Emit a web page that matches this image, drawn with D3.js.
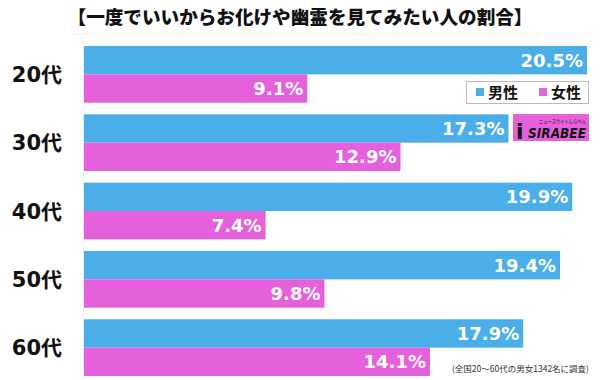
<!DOCTYPE html>
<html><head><meta charset="utf-8">
<script src="https://cdn.jsdelivr.net/npm/d3@7"></script>
<style>body{margin:0;background:#fff}svg{display:block}</style>
</head><body>
<svg id="c" width="600" height="380"></svg>
<script>
const categories = ["20代","30代","40代","50代","60代"];
const maleValues = [20.5,17.3,19.9,19.4,17.9];
const femaleValues = [9.1,12.9,7.4,9.8,14.1];
const seriesNames = ["男性","女性"];
const title = "【一度でいいからお化けや幽霊を見てみたい人の割合】";
const note = "(全国20～60代の男女1342名に調査)";

const colors = ["#4aaee8","#e561dc"];
const svg = d3.select("#c");
const x = d3.scaleLinear().domain([0,20.5]).range([84,587]);
const y = d3.scaleBand().domain(categories).range([46,376]).paddingInner(0.17).paddingOuter(0);
const sub = d3.scaleBand().domain([0,1]).range([0,y.bandwidth()]);

svg.append("text").attr("x",300).attr("y",24).attr("text-anchor","middle")
  .attr("font-family","'Noto Sans CJK JP'").attr("font-weight","900").attr("font-size",18.6)
  .attr("fill","#111").text(title);

svg.append("line").attr("x1",70).attr("x2",540).attr("y1",33.5).attr("y2",33.5)
  .attr("stroke","#fbeee0").attr("stroke-width",1);

svg.append("line").attr("x1",83.5).attr("x2",83.5).attr("y1",40).attr("y2",380)
  .attr("stroke","#eeeeee").attr("stroke-width",1);

const data = [];
categories.forEach((c,i)=>{
  data.push({c, s:0, v:maleValues[i]});
  data.push({c, s:1, v:femaleValues[i]});
});

svg.append("g").selectAll("rect").data(data).join("rect")
  .attr("x",x(0)).attr("y",d=>y(d.c)+sub(d.s))
  .attr("width",d=>x(d.v)-x(0)).attr("height",sub.bandwidth())
  .attr("fill",d=>colors[d.s]);

svg.append("g").selectAll("text").data(data).join("text")
  .attr("x",d=>x(d.v)-4).attr("y",d=>y(d.c)+sub(d.s)+sub.bandwidth()/2)
  .attr("dy","0.36em").attr("text-anchor","end")
  .attr("font-family","'DejaVu Sans'").attr("font-weight","bold").attr("font-size",18)
  .attr("fill","#fff").text(d=>d.v.toFixed(1)+"%");

svg.append("g").selectAll("text").data(categories).join("text")
  .attr("x",62).attr("y",d=>y(d)+y.bandwidth()/2).attr("dy","0.36em")
  .attr("text-anchor","end")
  .attr("font-family","'DejaVu Sans','Noto Sans CJK JP'").attr("font-weight","bold").attr("font-size",21)
  .attr("fill","#111").text(d=>d);

// legend
const lg = svg.append("g");
lg.append("rect").attr("x",466.5).attr("y",81.5).attr("width",122).attr("height",22)
  .attr("fill","#fff").attr("stroke","#bbb").attr("stroke-width",1);
const lx = [476,539];
seriesNames.forEach((n,i)=>{
  lg.append("rect").attr("x",lx[i]).attr("y",88).attr("width",8).attr("height",8).attr("fill",colors[i]);
  lg.append("text").attr("x",lx[i]+12).attr("y",92.5).attr("dy","0.36em")
    .attr("font-family","'Noto Sans CJK JP'").attr("font-weight","bold").attr("font-size",15)
    .attr("fill","#111").text(n);
});

// logo
const lo = svg.append("g");
lo.append("rect").attr("x",513).attr("y",114).attr("width",76).attr("height",27).attr("fill","#e561dc");
lo.append("text").attr("x",528).attr("y",138).attr("font-family","'DejaVu Sans'").attr("font-weight","bold")
  .attr("font-style","italic").attr("font-size",14).attr("fill","#111")
  .attr("textLength",58).attr("lengthAdjust","spacingAndGlyphs").text("SIRABEE");
lo.append("text").attr("x",516).attr("y",139).attr("font-family","'DejaVu Sans'").attr("font-weight","bold")
  .attr("font-size",22).attr("fill","#111").text("i");
lo.append("text").attr("x",539).attr("y",123).attr("font-family","'Noto Sans CJK JP'")
  .attr("font-size",5).attr("fill","#111")
  .attr("textLength",47).attr("lengthAdjust","spacingAndGlyphs").text("ニュースサイトしらべぇ");

svg.append("text").attr("x",589).attr("y",372).attr("text-anchor","end")
  .attr("font-family","'Noto Sans CJK JP'").attr("font-size",8.5).attr("fill","#333").text(note);
</script>
</body></html>
